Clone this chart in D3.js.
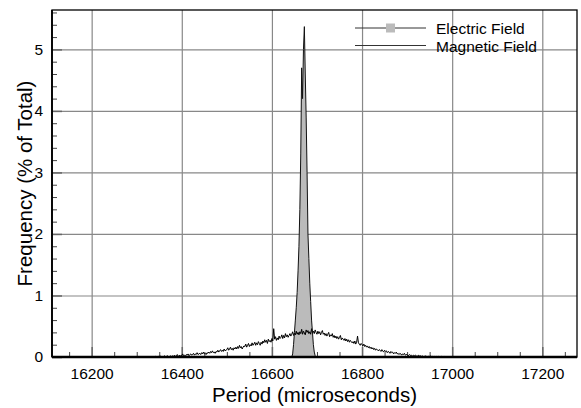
<!DOCTYPE html>
<html>
<head>
<meta charset="utf-8">
<script src="https://cdn.jsdelivr.net/npm/d3@7"></script>
<style>
  body { margin: 0; background: #fff; }
  svg { display: block; font-family: "Liberation Sans", Arial, Helvetica, sans-serif; }
</style>
</head>
<body>
<div id="chart"></div>
<script>
// tick labels
const xTicks = [16200, 16400, 16600, 16800, 17000, 17200];
const yTicks = [0, 1, 2, 3, 4, 5];
const seriesNames = ['Electric Field', 'Magnetic Field'];

// electric field, one value every 2 microseconds from 16644
const electricStart = 16644, electricStep = 2;
const electricValues = [
  0, 0.05, 0.2, 0.4, 0.6, 0.8, 1.05, 1.4, 1.8, 2.4,
  3.3, 4.7, 4.2, 5.0, 5.37, 4.6, 3.9, 3.0, 2.0, 1.6,
  1.2, 0.9, 0.6, 0.4, 0.2, 0.08, 0.02, 0
];

// magnetic field, one value every 2 microseconds from 16340
const magneticStart = 16340, magneticStep = 2;
const magneticValues = [
  0, 0.01, 0, 0, 0.01, 0, 0.02, 0, 0.01, 0,
  0.01, 0.02, 0, 0.01, 0.02, 0.01, 0, 0.02, 0.01, 0.01,
  0.02, 0.01, 0.03, 0.01, 0.02, 0.04, 0.01, 0.02, 0.03, 0.01,
  0.03, 0.05, 0.02, 0.03, 0.01, 0.04, 0.03, 0.05, 0.02, 0.04,
  0.05, 0.03, 0.04, 0.06, 0.03, 0.05, 0.04, 0.07, 0.04, 0.05,
  0.06, 0.04, 0.07, 0.05, 0.08, 0.05, 0.06, 0.04, 0.07, 0.06,
  0.08, 0.06, 0.09, 0.07, 0.10, 0.07, 0.08, 0.06, 0.09, 0.08,
  0.11, 0.08, 0.10, 0.12, 0.09, 0.11, 0.09, 0.13, 0.10, 0.11,
  0.12, 0.15, 0.11, 0.13, 0.16, 0.12, 0.14, 0.11, 0.15, 0.13,
  0.16, 0.13, 0.17, 0.14, 0.19, 0.15, 0.17, 0.13, 0.16, 0.18,
  0.17, 0.21, 0.16, 0.19, 0.22, 0.17, 0.20, 0.18, 0.23, 0.19,
  0.21, 0.24, 0.19, 0.23, 0.20, 0.25, 0.22, 0.19, 0.24, 0.21,
  0.26, 0.23, 0.28, 0.24, 0.27, 0.22, 0.29, 0.25, 0.27, 0.24,
  0.30, 0.26, 0.46, 0.29, 0.33, 0.27, 0.31, 0.28, 0.34, 0.30,
  0.32, 0.36, 0.30, 0.35, 0.31, 0.38, 0.33, 0.36, 0.32, 0.35,
  0.38, 0.34, 0.37, 0.41, 0.35, 0.39, 0.36, 0.42, 0.37, 0.40,
  0.36, 0.41, 0.38, 0.45, 0.37, 0.42, 0.39, 0.36, 0.44, 0.40,
  0.43, 0.38, 0.41, 0.37, 0.46, 0.39, 0.42, 0.38, 0.44, 0.40,
  0.37, 0.42, 0.38, 0.41, 0.36, 0.40, 0.43, 0.37, 0.39, 0.35,
  0.38, 0.34, 0.37, 0.40, 0.33, 0.36, 0.34, 0.38, 0.32, 0.35,
  0.31, 0.34, 0.30, 0.33, 0.29, 0.32, 0.35, 0.28, 0.31, 0.29,
  0.27, 0.30, 0.26, 0.29, 0.25, 0.28, 0.24, 0.27, 0.25, 0.23,
  0.25, 0.22, 0.26, 0.21, 0.24, 0.34, 0.23, 0.21, 0.19, 0.22,
  0.20, 0.18, 0.21, 0.17, 0.19, 0.16, 0.18, 0.15, 0.17, 0.14,
  0.16, 0.13, 0.15, 0.12, 0.14, 0.11, 0.13, 0.12, 0.10, 0.12,
  0.11, 0.09, 0.12, 0.10, 0.08, 0.11, 0.09, 0.10, 0.07, 0.09,
  0.08, 0.06, 0.09, 0.07, 0.08, 0.05, 0.07, 0.06, 0.08, 0.05,
  0.06, 0.04, 0.06, 0.05, 0.03, 0.05, 0.04, 0.06, 0.03, 0.04,
  0.04, 0.02, 0.03, 0.04, 0.02, 0.03, 0.01, 0.03, 0.02, 0.03,
  0.02, 0.01, 0.02, 0.03, 0.01, 0.02, 0.01, 0.02, 0, 0.01,
  0.01, 0.02, 0, 0.01, 0.01, 0, 0.02, 0, 0.01, 0,
  0.01, 0, 0, 0.01, 0, 0.01, 0, 0, 0.01, 0,
  0, 0, 0.01, 0, 0, 0, 0, 0, 0, 0,
  0
];

const electric = electricValues.map((v, i) => ({x: electricStart + i * electricStep, y: v}));
const magnetic = magneticValues.map((v, i) => ({x: magneticStart + i * magneticStep, y: v}));

const W = 581, H = 408;
const margin = {top: 10, right: 4, bottom: 51, left: 52};
const width = W - margin.left - margin.right;
const height = H - margin.top - margin.bottom;

const svg = d3.select('#chart').append('svg')
  .attr('width', W)
  .attr('height', H);

const plot = svg.append('g')
  .attr('transform', 'translate(' + margin.left + ',' + margin.top + ')');

const x = d3.scaleLinear().domain([16112, 17277]).range([0, width]);
const y = d3.scaleLinear().domain([0, 5.64]).range([height, 0]);

// grid lines
plot.append('g')
  .attr('transform', 'translate(0,' + height + ')')
  .call(d3.axisBottom(x).tickValues(xTicks).tickSize(-height).tickFormat(''))
  .call(g => g.select('.domain').remove())
  .call(g => g.selectAll('line').attr('stroke', '#888').attr('stroke-width', 1.2));

plot.append('g')
  .call(d3.axisLeft(y).tickValues(yTicks).tickSize(-width).tickFormat(''))
  .call(g => g.select('.domain').remove())
  .call(g => g.selectAll('line').attr('stroke', '#888').attr('stroke-width', 1.2));

// minor ticks (inside)
const xMinor = d3.range(16150, 17277, 50).filter(v => v % 200 !== 0);
plot.append('g')
  .attr('transform', 'translate(0,' + height + ')')
  .call(d3.axisBottom(x).tickValues(xMinor).tickSize(-5).tickFormat(''))
  .call(g => g.select('.domain').remove())
  .call(g => g.selectAll('line').attr('stroke', '#444'));

const yMinor = d3.range(0.2, 5.64, 0.2).filter(v => Math.abs(v - Math.round(v)) > 0.01);
plot.append('g')
  .call(d3.axisLeft(y).tickValues(yMinor).tickSize(-5).tickFormat(''))
  .call(g => g.select('.domain').remove())
  .call(g => g.selectAll('line').attr('stroke', '#444'));

// major ticks with labels
plot.append('g')
  .attr('transform', 'translate(0,' + height + ')')
  .call(d3.axisBottom(x).tickValues(xTicks).tickSize(-10).tickPadding(11).tickFormat(d3.format('d')))
  .call(g => g.select('.domain').remove())
  .call(g => g.selectAll('line').attr('stroke', '#666').attr('stroke-width', 1.5))
  .call(g => g.selectAll('text').attr('font-size', 15.5).attr('fill', '#000')
    .attr('font-family', '"Liberation Sans", Arial, sans-serif'));

plot.append('g')
  .call(d3.axisLeft(y).tickValues(yTicks).tickSize(-10).tickPadding(9).tickFormat(d3.format('d')))
  .call(g => g.select('.domain').remove())
  .call(g => g.selectAll('line').attr('stroke', '#666').attr('stroke-width', 1.5))
  .call(g => g.selectAll('text').attr('font-size', 15.5).attr('fill', '#000')
    .attr('font-family', '"Liberation Sans", Arial, sans-serif'));

// electric field area
plot.append('path')
  .datum(electric)
  .attr('fill', '#bbb')
  .attr('d', d3.area().x(d => x(d.x)).y0(y(0)).y1(d => y(d.y)));

// magnetic field line
plot.append('path')
  .datum(magnetic)
  .attr('fill', 'none')
  .attr('stroke', '#000')
  .attr('stroke-width', 1)
  .attr('d', d3.line().x(d => x(d.x)).y(d => y(d.y)));

// electric field outline
plot.append('path')
  .datum(electric)
  .attr('fill', 'none')
  .attr('stroke', '#111')
  .attr('stroke-width', 1)
  .attr('d', d3.line().x(d => x(d.x)).y(d => y(d.y)));

// frame
plot.append('rect')
  .attr('width', width).attr('height', height)
  .attr('fill', 'none').attr('stroke', '#000').attr('stroke-width', 1.3);
plot.append('line')
  .attr('x1', 0).attr('x2', width).attr('y1', height).attr('y2', height)
  .attr('stroke', '#000').attr('stroke-width', 2.4);
plot.append('line')
  .attr('x1', 0).attr('x2', 0).attr('y1', 0).attr('y2', height)
  .attr('stroke', '#000').attr('stroke-width', 1.8);

// legend
const legend = plot.append('g').attr('transform', 'translate(' + (355 - margin.left) + ',' + (28 - margin.top) + ')');
seriesNames.forEach((name, i) => {
  const row = legend.append('g').attr('transform', 'translate(0,' + (i * 17.5) + ')');
  row.append('line').attr('x1', 0).attr('x2', 71).attr('y1', 0).attr('y2', 0)
    .attr('stroke', '#333').attr('stroke-width', 1);
  if (i === 0) {
    row.append('rect').attr('x', 31).attr('y', -4.5).attr('width', 9).attr('height', 9)
      .attr('fill', '#bbb');
  }
  row.append('text').attr('x', 81).attr('y', 6).attr('font-size', 15.5)
    .text(name);
});

// axis titles
svg.append('text')
  .attr('x', margin.left + width / 2).attr('y', 402)
  .attr('text-anchor', 'middle').attr('font-size', 20.5)
  .text('Period (microseconds)');

svg.append('text')
  .attr('transform', 'translate(32,' + (margin.top + height / 2) + ') rotate(-90)')
  .attr('text-anchor', 'middle').attr('font-size', 20.5)
  .text('Frequency (% of Total)');
</script>
</body>
</html>
